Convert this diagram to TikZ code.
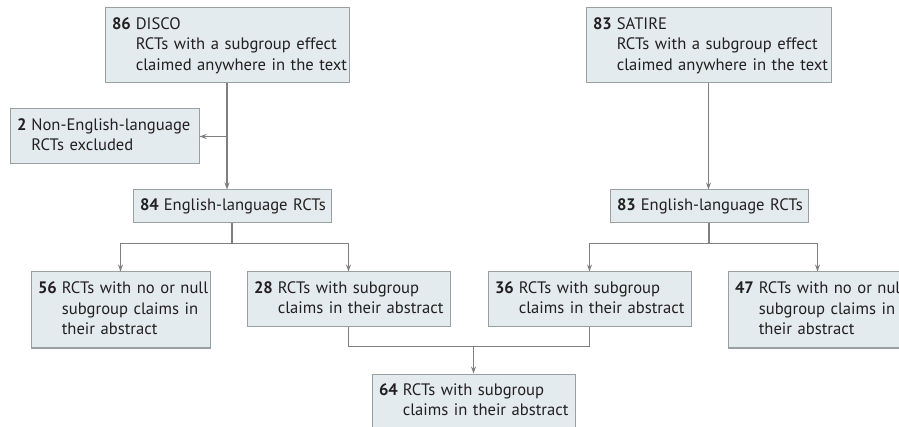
\documentclass[tikz,border=0pt]{standalone}
\usepackage{fontspec}
\setmainfont{PT Sans}
\usepackage{xcolor}
\usetikzlibrary{positioning,arrows.meta,calc}
\definecolor{boxfill}{HTML}{E3EBEE}
\definecolor{boxline}{HTML}{9A9FA2}
\definecolor{flowline}{HTML}{808080}
\definecolor{inktext}{HTML}{231F20}
\tikzset{
  flowbox/.style   = {rectangle, draw=boxline, fill=boxfill, line width=1pt,
                      inner xsep=7pt, inner ysep=0pt, align=left, text=inktext,
                      font=\fontsize{16.6}{20.5}\selectfont},
  flowedge/.style  = {flowline, line width=1.2pt},
  flowarrow/.style = {flowedge, -{Stealth[length=7pt,width=5pt]}},
}
\newcommand{\tally}[2]{\begin{tabular}[t]{@{}l@{\hspace{5pt}}l@{}}\textbf{#1} & \begin{tabular}[t]{@{}l@{}}#2\end{tabular}\end{tabular}}

\begin{document}
\begin{tikzpicture}[x=1pt,y=-1pt]
      \useasboundingbox (0,0) rectangle (899,427);
      % top row
      \node[flowbox, text width=230pt, minimum height=75pt] (disco) at (227,45.5)
        {\tally{86}{DISCO\\RCTs with a subgroup effect\\claimed anywhere in the text}};
      \node[flowbox, text width=231pt, minimum height=75pt] (satire) at (708.5,45.5)
        {\tally{83}{SATIRE\\RCTs with a subgroup effect\\claimed anywhere in the text}};
      \node[flowbox, text width=175pt, minimum height=55pt] (excl) at (104.5,136.5)
        {\tally{2}{Non-English-language\\RCTs excluded}};
      % english-language
      \node[flowbox, text width=184pt, minimum height=33pt] (eng1) at (232,206.5)
        {\tally{84}{English-language RCTs}};
      \node[flowbox, text width=184pt, minimum height=33pt] (eng2) at (709,206.5)
        {\tally{83}{English-language RCTs}};
      % abstract claims
      \node[flowbox, text width=165pt, minimum height=76pt] (null1) at (120.5,310)
        {\tally{56}{RCTs with no or null\\subgroup claims in\\their abstract}};
      \node[flowbox, text width=189pt, minimum height=55pt] (sub1) at (348.5,299.5)
        {\tally{28}{RCTs with subgroup\\claims in their abstract}};
      \node[flowbox, text width=189pt, minimum height=55pt] (sub2) at (589.5,299.5)
        {\tally{36}{RCTs with subgroup\\claims in their abstract}};
      \node[flowbox, text width=165pt, minimum height=76pt] (null2) at (817.5,310)
        {\tally{47}{RCTs with no or null\\subgroup claims in\\their abstract}};
      \node[flowbox, text width=189pt, minimum height=55pt] (merged) at (473.5,401.5)
        {\tally{64}{RCTs with subgroup\\claims in their abstract}};

      \coordinate (split) at (disco.south |- excl.east);
      \coordinate (fork1) at ($(eng1.south)+(0,20)$);
      \coordinate (fork2) at ($(eng2.south)+(0,20)$);
      \coordinate (join) at ($(merged.north)+(0,-27)$);

      \draw[flowarrow] (disco.south) -- (disco.south |- eng1.north);
      \draw[flowarrow] (split) -- (excl.east);
      \draw[flowarrow] (satire.south) -- (satire.south |- eng2.north);
      \draw[flowedge] (eng1.south) -- (fork1);
      \draw[flowarrow] (fork1) -| (null1.north);
      \draw[flowarrow] (fork1) -| (sub1.north);
      \draw[flowedge] (eng2.south) -- (fork2);
      \draw[flowarrow] (fork2) -| (sub2.north);
      \draw[flowarrow] (fork2) -| (null2.north);
      \draw[flowedge] (sub1.south) |- (join);
      \draw[flowedge] (sub2.south) |- (join);
      \draw[flowarrow] (join) -- (merged.north);
\end{tikzpicture}
\end{document}
